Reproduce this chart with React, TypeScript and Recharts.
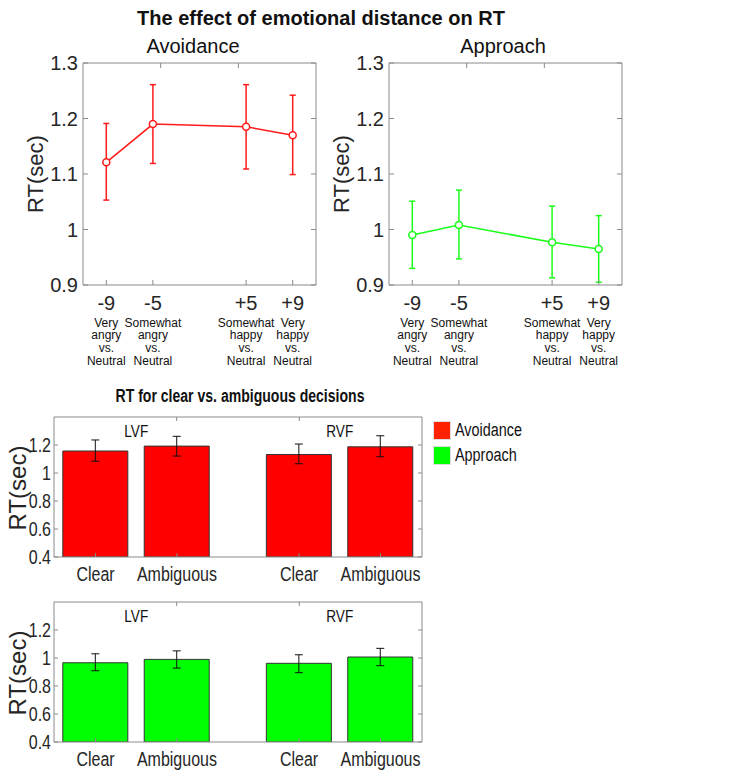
import React from 'react';
import { LineChart, Line, BarChart, Bar, XAxis, YAxis, ErrorBar, ReferenceDot, Label } from 'recharts';

// emotional distance conditions (top panels)
const distanceLabels = ['-9', '-5', '+5', '+9'];
const distanceSlots = [1, 2, 4, 5];
const distanceDescriptions = [
  ['Very', 'angry', 'vs.', 'Neutral'],
  ['Somewhat', 'angry', 'vs.', 'Neutral'],
  ['Somewhat', 'happy', 'vs.', 'Neutral'],
  ['Very', 'happy', 'vs.', 'Neutral'],
];
const lineTicks = [0.9, 1, 1.1, 1.2, 1.3];

const avoidanceMean = [1.121, 1.19, 1.185, 1.17];
const avoidanceLow = [1.053, 1.119, 1.109, 1.099];
const avoidanceHigh = [1.191, 1.261, 1.261, 1.242];

const approachMean = [0.99, 1.008, 0.977, 0.965];
const approachLow = [0.93, 0.947, 0.913, 0.905];
const approachHigh = [1.051, 1.071, 1.042, 1.025];

// clear vs ambiguous decisions (bottom panels)
const decisionLabels = ['Clear', 'Ambiguous', 'Clear', 'Ambiguous'];
const decisionSlots = [1, 2, 3.5, 4.5];
const fieldLabels = ['LVF', 'RVF'];
const fieldCenters = [1.5, 4];
const barTicks = [0.4, 0.6, 0.8, 1, 1.2];

const avoidanceBarMean = [1.157, 1.192, 1.132, 1.187];
const avoidanceBarLow = [1.084, 1.121, 1.066, 1.116];
const avoidanceBarHigh = [1.236, 1.262, 1.207, 1.266];

const approachBarMean = [0.966, 0.99, 0.962, 1.007];
const approachBarLow = [0.909, 0.928, 0.895, 0.945];
const approachBarHigh = [1.03, 1.051, 1.023, 1.069];

const legendNames = ['Avoidance', 'Approach'];
const legendColors = ['#ff2200', '#00ff00'];

const FONT = "'Liberation Sans', Arial, Helvetica, sans-serif";
const SQUEEZE = 0.8; // the lower panels use a condensed face
const AXIS_GRAY = '#8a8a8a';
const TEXT_DARK = '#262626';
const RED = '#ff1a1a';
const GREEN = '#1aff1a';

const noTick = () => <g />;

function DistanceTick(props: any) {
  const { x, y, payload } = props;
  const i = distanceSlots.indexOf(payload.value);
  if (i < 0) return <g />;
  return (
    <g>
      <text x={x} y={y + 14.5} textAnchor="middle" fontSize={20} fill={TEXT_DARK} fontFamily={FONT}>
        {distanceLabels[i]}
      </text>
      {distanceDescriptions[i].map((line, k) => (
        <text key={k} x={x} y={y + 31.5 + k * 12.7} textAnchor="middle" fontSize={12} fill="#111" fontFamily={FONT}>
          {line}
        </text>
      ))}
    </g>
  );
}

function narrowText(x: number, y: number, text: string, size: number, anchor: string, fill = TEXT_DARK) {
  return (
    <text
      transform={`translate(${x} ${y}) scale(${SQUEEZE} 1)`}
      textAnchor={anchor}
      fontSize={size}
      fill={fill}
      fontFamily={FONT}
    >
      {text}
    </text>
  );
}

function DecisionTick(props: any) {
  const { x, y, payload } = props;
  const i = decisionSlots.indexOf(payload.value);
  if (i < 0) return <g />;
  return <g>{narrowText(x, y + 14, decisionLabels[i], 20, 'middle')}</g>;
}

function ValueTick(props: any) {
  const { x, y, payload } = props;
  return <g>{narrowText(x, y + 7, String(payload.value), 20, 'end')}</g>;
}

function rotatedLabel(cx: number, cy: number, size: number) {
  return (
    <Label
      content={() => (
        <text
          x={cx}
          y={cy}
          transform={`rotate(-90 ${cx} ${cy})`}
          textAnchor="middle"
          dominantBaseline="central"
          fontSize={size}
          fill={TEXT_DARK}
          fontFamily={FONT}
        >
          RT(sec)
        </text>
      )}
    />
  );
}

type LineProps = {
  means: number[];
  lows: number[];
  highs: number[];
  color: string;
  left: number;
};

function RtLineChart({ means, lows, highs, color, left }: LineProps) {
  const rows = distanceSlots.map((slot, i) => ({
    slot,
    rt: means[i],
    err: [means[i] - lows[i], highs[i] - means[i]],
  }));
  return (
    <div style={{ position: 'absolute', left, top: 0 }}>
      <LineChart width={340} height={380} data={rows} margin={{ top: 62, right: 23, bottom: 0, left: 33 }}>
        <XAxis
          dataKey="slot"
          type="number"
          domain={[0.5, 5.5]}
          ticks={distanceSlots}
          allowDataOverflow
          interval={0}
          height={95}
          stroke={AXIS_GRAY}
          tickSize={-5}
          tickMargin={15}
          tick={<DistanceTick />}
        />
        <XAxis
          xAxisId="top"
          orientation="top"
          type="number"
          domain={[0.5, 5.5]}
          ticks={distanceSlots}
          allowDataOverflow
          height={1}
          stroke={AXIS_GRAY}
          tickSize={-5}
          tick={noTick}
        />
        <YAxis
          type="number"
          domain={[0.9, 1.3]}
          ticks={lineTicks}
          allowDataOverflow
          interval={0}
          width={50}
          stroke={AXIS_GRAY}
          tickSize={-5}
          tickMargin={10}
          tick={{ fontSize: 20, fill: TEXT_DARK, fontFamily: FONT }}
          tickFormatter={(v: number) => String(v)}
          label={rotatedLabel(35, 174, 22)}
        />
        <YAxis
          yAxisId="right"
          orientation="right"
          type="number"
          domain={[0.9, 1.3]}
          ticks={lineTicks}
          allowDataOverflow
          width={1}
          stroke={AXIS_GRAY}
          tickSize={-5}
          tick={noTick}
        />
        <Line
          dataKey="rt"
          stroke={color}
          strokeWidth={1.5}
          dot={{ r: 3.5, fill: '#fff', stroke: color, strokeWidth: 1.5 }}
          isAnimationActive={false}
        >
          <ErrorBar dataKey="err" direction="y" width={3} stroke={color} strokeWidth={1.5} />
        </Line>
      </LineChart>
    </div>
  );
}

type BarProps = {
  means: number[];
  lows: number[];
  highs: number[];
  color: string;
  top: number;
};

function RtBarChart({ means, lows, highs, color, top }: BarProps) {
  const rows = decisionSlots.map((slot, i) => ({
    slot,
    rt: means[i],
    err: [means[i] - lows[i], highs[i] - means[i]],
  }));
  return (
    <div style={{ position: 'absolute', left: 0, top }}>
      <BarChart width={430} height={185} data={rows} margin={{ top: 16, right: 7, bottom: 0, left: 10 }}>
        <XAxis
          dataKey="slot"
          type="number"
          domain={[0.49, 5.01]}
          ticks={decisionSlots}
          allowDataOverflow
          interval={0}
          height={28}
          stroke={AXIS_GRAY}
          tickSize={-4}
          tickMargin={14}
          tick={<DecisionTick />}
        />
        <XAxis
          xAxisId="top"
          orientation="top"
          type="number"
          domain={[0.49, 5.01]}
          ticks={decisionSlots}
          allowDataOverflow
          height={1}
          stroke={AXIS_GRAY}
          tickSize={-4}
          tick={noTick}
        />
        <YAxis
          type="number"
          domain={[0.4, 1.4]}
          ticks={barTicks}
          allowDataOverflow
          interval={0}
          width={44}
          stroke={AXIS_GRAY}
          tickSize={-4}
          tickMargin={7}
          tick={<ValueTick />}
          label={rotatedLabel(17, 88, 24)}
        />
        <YAxis
          yAxisId="right"
          orientation="right"
          type="number"
          domain={[0.4, 1.4]}
          ticks={barTicks}
          allowDataOverflow
          width={1}
          stroke={AXIS_GRAY}
          tickSize={-4}
          tick={noTick}
        />
        <Bar dataKey="rt" fill={color} stroke="#333" strokeWidth={1} barSize={65} isAnimationActive={false}>
          <ErrorBar dataKey="err" direction="y" width={4} stroke="#111" strokeWidth={1} />
        </Bar>
        {fieldLabels.map((name, i) => (
          <ReferenceDot
            key={name}
            x={fieldCenters[i]}
            y={1.3}
            r={0}
            fill="none"
            stroke="none"
            label={
              <Label
                content={(p: any) => narrowText(p.viewBox.x, p.viewBox.y + 6, name, 17, 'middle', '#111')}
              />
            }
          />
        ))}
      </BarChart>
    </div>
  );
}

const centered = (x: number, y: number, size: number, bold: boolean, squeeze = 1): React.CSSProperties => ({
  position: 'absolute',
  left: x,
  top: y - size / 2,
  transform: `translateX(-50%) scaleX(${squeeze})`,
  whiteSpace: 'nowrap',
  fontSize: size,
  lineHeight: `${size}px`,
  fontWeight: bold ? 'bold' : 'normal',
  fontFamily: FONT,
  color: '#111',
});

export default function App() {
  return (
    <div style={{ position: 'absolute', left: 0, top: 0, width: 735, height: 770, background: '#fff', overflow: 'hidden' }}>
      <div style={centered(321, 18, 20, true)}>The effect of emotional distance on RT</div>
      <div style={centered(193, 46, 20, false)}>Avoidance</div>
      <div style={centered(503, 46, 20, false)}>Approach</div>

      <RtLineChart means={avoidanceMean} lows={avoidanceLow} highs={avoidanceHigh} color={RED} left={0} />
      <RtLineChart means={approachMean} lows={approachLow} highs={approachHigh} color={GREEN} left={306} />

      <div style={centered(240, 396, 18, true, 0.78)}>RT for clear vs. ambiguous decisions</div>

      <RtBarChart means={avoidanceBarMean} lows={avoidanceBarLow} highs={avoidanceBarHigh} color="#ff0000" top={400} />
      <RtBarChart means={approachBarMean} lows={approachBarLow} highs={approachBarHigh} color="#00ff00" top={585} />

      <div style={{ position: 'absolute', left: 433, top: 418 }}>
        {legendNames.map((name, i) => (
          <div key={name} style={{ display: 'flex', alignItems: 'center', height: 25 }}>
            <span style={{ display: 'inline-block', width: 18, height: 19, background: legendColors[i], border: '1px solid #ddd', boxSizing: 'border-box' }} />
            <span
              style={{
                marginLeft: 4,
                fontSize: 18,
                fontFamily: FONT,
                color: '#111',
                display: 'inline-block',
                transform: `scaleX(${SQUEEZE})`,
                transformOrigin: 'left center',
              }}
            >
              {name}
            </span>
          </div>
        ))}
      </div>
    </div>
  );
}
